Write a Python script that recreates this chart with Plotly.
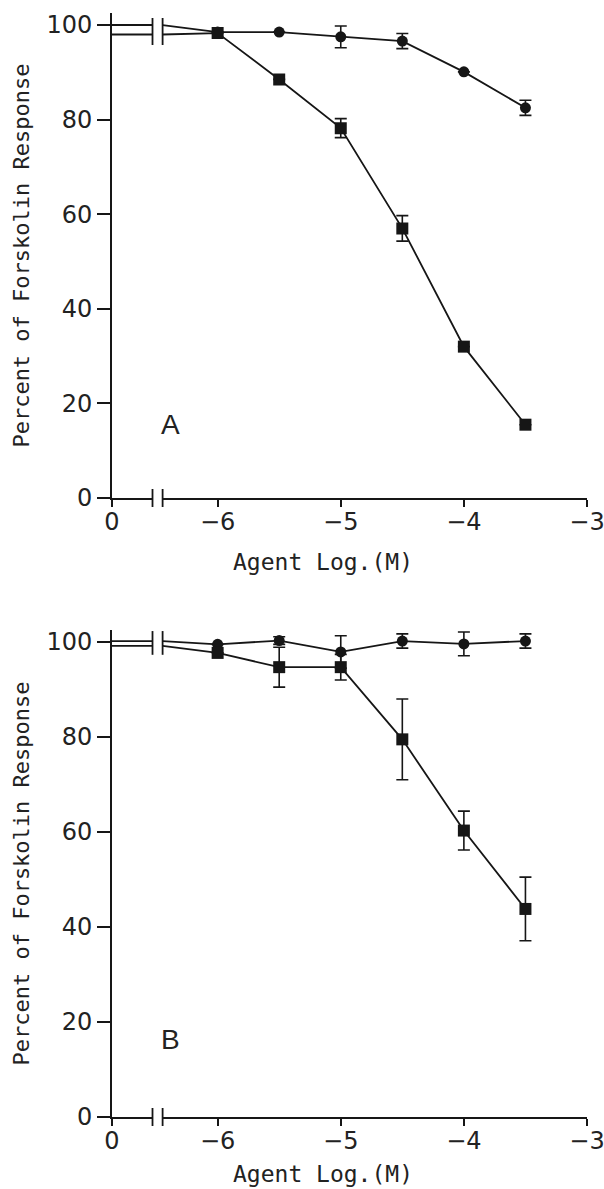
import plotly.graph_objects as go

# ---------------- data ----------------
conc = [-6, -5.5, -5, -4.5, -4, -3.5]          # log(M)

A_circle = [98.5, 98.5, 97.5, 96.6, 90.1, 82.5]
A_circle_err = [0, 0, 2.3, 1.6, 0, 1.6]
A_square = [98.3, 88.5, 78.2, 57.0, 32.0, 15.5]
A_square_err = [0, 0, 2.0, 2.7, 0, 0]
A_ctrl_circle = 100.0
A_ctrl_square = 98.0

B_circle = [99.5, 100.3, 97.9, 100.2, 99.6, 100.2]
B_circle_err = [0, 0.8, 3.4, 1.5, 2.5, 1.5]
B_square = [97.7, 94.7, 94.7, 79.5, 60.3, 43.8]
B_square_err = [0, 4.2, 2.7, 8.5, 4.1, 6.7]
B_ctrl_circle = 100.2
B_ctrl_square = 99.2

x_tick_text = ["0", "\u22126", "\u22125", "\u22124", "\u22123"]
y_tick_vals = [0, 20, 40, 60, 80, 100]

# ---------------- layout constants ----------------
X_ZERO = -6.858         # axis position used for the "0" (control) point
X_MAX = -3.0
BREAK_L, BREAK_R = -6.529, -6.447
x_tick_vals = [X_ZERO, -6, -5, -4, -3]
Y_MAX = 102.5

domA = [0.5639, 0.99714]
domB = [0.010724, 0.44584]

INK = "#161616"
TICKFONT = dict(family="DejaVu Sans", size=24, color="#222222")
XTITLEFONT = dict(family="DejaVu Sans Mono", size=23, color="#222222")
YTITLEFONT = dict(family="DejaVu Sans Mono", size=22, color="#222222")

fig = go.Figure()


def add_panel(xa, ya, ctrl_c, ctrl_s, circ, circ_err, sq, sq_err):
    # connecting lines (control value -> break -> data points)
    for ctrl, vals in ((ctrl_c, circ), (ctrl_s, sq)):
        xs = [X_ZERO, BREAK_L, None, BREAK_R] + conc
        ys = [ctrl, ctrl, None, ctrl] + vals
        fig.add_trace(go.Scatter(x=xs, y=ys, mode="lines", xaxis=xa, yaxis=ya,
                                 line=dict(color=INK, width=1.8),
                                 hoverinfo="skip", showlegend=False))
    fig.add_trace(go.Scatter(x=conc, y=circ, mode="markers", xaxis=xa, yaxis=ya,
                             marker=dict(symbol="circle", size=11, color=INK),
                             error_y=dict(type="data", array=circ_err, visible=True,
                                          color=INK, thickness=1.6, width=6),
                             showlegend=False))
    fig.add_trace(go.Scatter(x=conc, y=sq, mode="markers", xaxis=xa, yaxis=ya,
                             marker=dict(symbol="square", size=12, color=INK),
                             error_y=dict(type="data", array=sq_err, visible=True,
                                          color=INK, thickness=1.6, width=6),
                             showlegend=False))


add_panel("x", "y", A_ctrl_circle, A_ctrl_square, A_circle, A_circle_err, A_square, A_square_err)
add_panel("x2", "y2", B_ctrl_circle, B_ctrl_square, B_circle, B_circle_err, B_square, B_square_err)

xcommon = dict(range=[X_ZERO, X_MAX], tickvals=x_tick_vals, ticktext=x_tick_text,
               showline=True, linecolor=INK, linewidth=2, ticks="outside", ticklen=7,
               tickwidth=1.5, tickcolor=INK, showgrid=False, zeroline=False,
               tickfont=TICKFONT, automargin=False, ticklabelstandoff=-6,
               ticklabeloverflow="allow")
ycommon = dict(range=[0, Y_MAX], tickvals=y_tick_vals, showline=True, linecolor=INK,
               linewidth=2, ticks="outside", ticklen=13, tickwidth=1.5, tickcolor=INK,
               showgrid=False, zeroline=False, tickfont=TICKFONT, automargin=False,
               ticklabeloverflow="allow")

fig.update_layout(
    width=604, height=1189,
    margin=dict(l=112, r=17, t=10, b=60, autoexpand=False),
    paper_bgcolor="white", plot_bgcolor="white",
    xaxis=dict(domain=[0, 1], anchor="y", **xcommon),
    yaxis=dict(domain=domA, anchor="x", **ycommon),
    xaxis2=dict(domain=[0, 1], anchor="y2", **xcommon),
    yaxis2=dict(domain=domB, anchor="x2", **ycommon),
)

shapes = []
annotations = []
for xr, yr, dom, top_lo, top_hi, letter, ly, tshift in (
        ("x", "y", domA, 95.8, 101.5, "A", 0.151, -64),
        ("x2", "y2", domB, 97.3, 102.3, "B", 0.159, -57)):
    # top break marks across the control lines
    for xb in (BREAK_L, BREAK_R):
        shapes.append(dict(type="line", xref=xr, yref=yr, x0=xb, x1=xb, y0=top_lo, y1=top_hi,
                           line=dict(color=INK, width=1.8), layer="above"))
    # bottom break on the x-axis
    pl = (BREAK_L - X_ZERO) / (X_MAX - X_ZERO)
    pr = (BREAK_R - X_ZERO) / (X_MAX - X_ZERO)
    shapes.append(dict(type="rect", xref="paper", yref="paper", x0=pl, x1=pr,
                       ysizemode="pixel", yanchor=dom[0], y0=-3, y1=3,
                       fillcolor="white", line=dict(width=0), layer="above"))
    for p in (pl, pr):
        shapes.append(dict(type="line", xref="paper", yref="paper", x0=p, x1=p,
                           ysizemode="pixel", yanchor=dom[0], y0=-9, y1=9,
                           line=dict(color=INK, width=1.8), layer="above"))
    xd = "x domain" if xr == "x" else "x2 domain"
    yd = "y domain" if yr == "y" else "y2 domain"
    annotations.append(dict(text=letter, xref=xd, yref=yd, x=0.123, y=ly,
                            showarrow=False, xanchor="center", yanchor="middle",
                            font=dict(family="Liberation Sans", size=28, color="#222222")))
    annotations.append(dict(text="Agent Log.(M)", xref=xd, yref=yd, x=0.4435, y=0,
                            yshift=tshift, showarrow=False, xanchor="center", yanchor="middle",
                            font=XTITLEFONT))
    annotations.append(dict(text="Percent of Forskolin Response", xref=xd, yref=yd,
                            x=0, y=0.5, xshift=-90, textangle=-90, showarrow=False,
                            xanchor="center", yanchor="middle", font=YTITLEFONT))

fig.update_layout(shapes=shapes, annotations=annotations)
fig.write_html("out.html")
